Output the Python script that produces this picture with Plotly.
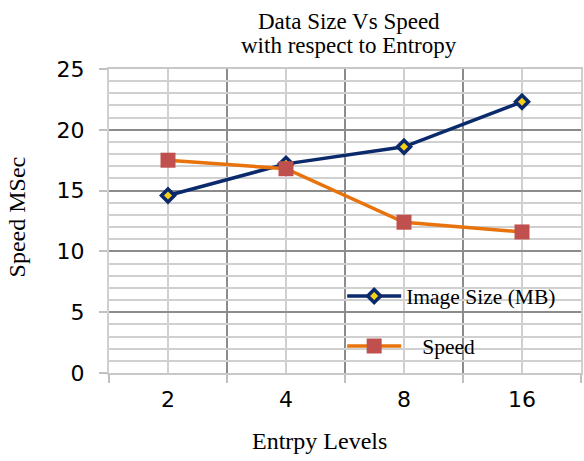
import plotly.graph_objects as go

categories = ["2", "4", "8", "16"]
image_size = [14.6, 17.2, 18.6, 22.3]
speed = [17.5, 16.8, 12.4, 11.6]

x_idx = list(range(len(categories)))
boundaries = [i - 0.5 for i in range(len(categories) + 1)]

NAVY = "#0B2A6B"
ORANGE = "#E8730C"
SQUARE = "#C0504D"
YELLOW = "#F7D117"
SERIF = "Liberation Serif"
SANS = "DejaVu Sans"

PLOT_T, PLOT_H, PLOT_L, PLOT_W = 69, 304, 109, 474

fig = go.Figure()
fig.add_trace(go.Scatter(
    x=x_idx, y=image_size, name="Image Size (MB)", mode="lines+markers",
    line=dict(color=NAVY, width=3.5),
    marker=dict(symbol="diamond", size=10, color=YELLOW, line=dict(color=NAVY, width=3.5)),
    legendgroup="a",
))
fig.add_trace(go.Scatter(
    x=x_idx, y=speed, name="\u00a0\u00a0\u00a0Speed", mode="lines+markers",
    line=dict(color=ORANGE, width=3.5),
    marker=dict(symbol="square", size=15, color=SQUARE, line=dict(width=0)),
    legendgroup="b",
))

fig.add_shape(type="rect", xref="paper", yref="y", x0=0.445, x1=1.0, y0=0.12, y1=8.3,
              fillcolor="white", line=dict(width=0), layer="between")

fig.update_layout(
    width=584, height=461,
    margin=dict(l=PLOT_L, r=1, t=PLOT_T, b=88),
    paper_bgcolor="white", plot_bgcolor="white",
    showlegend=True,
    legend=dict(x=0.494, xanchor="left", y=0.3205, yanchor="top", bgcolor="rgba(0,0,0,0)",
                font=dict(family=SERIF, size=21.5, color="black"),
                tracegroupgap=19, itemwidth=54),
    xaxis=dict(
        range=[-0.5, len(categories) - 0.5],
        tickmode="array", tickvals=x_idx, ticktext=categories,
        ticks="", showgrid=True, gridcolor="#D0D0D0", gridwidth=2,
        tickfont=dict(family=SANS, size=22, color="black"),
        ticklabelstandoff=6,
        showline=True, linecolor="#C8C8C8", linewidth=2, mirror=True,
        zeroline=False,
        minor=dict(tickmode="array", tickvals=boundaries, ticks="outside", ticklen=8,
                   tickcolor="#C0C0C0", tickwidth=2, showgrid=True, gridcolor="#8C8C8C", gridwidth=1.5),
    ),
    yaxis=dict(
        range=[0, 25], dtick=5, tick0=0,
        ticks="outside", ticklen=8, tickcolor="#C0C0C0", tickwidth=2,
        showgrid=True, gridcolor="#8C8C8C", gridwidth=1.5,
        tickfont=dict(family=SANS, size=22, color="black"),
        ticklabelstandoff=10,
        showline=True, linecolor="#D0D0D0", linewidth=2, mirror=True,
        zeroline=False,
        minor=dict(dtick=1, tick0=0, showgrid=True, gridcolor="#D0D0D0", gridwidth=2, ticks=""),
    ),
    annotations=[
        dict(text="Data Size Vs Speed", xref="paper", yref="paper",
             x=(350 - PLOT_L) / PLOT_W, y=1 + (PLOT_T - 7) / PLOT_H,
             xanchor="center", yanchor="top", showarrow=False,
             font=dict(family=SERIF, size=23, color="black")),
        dict(text="with respect to Entropy", xref="paper", yref="paper",
             x=(350 - PLOT_L) / PLOT_W, y=1 + (PLOT_T - 31) / PLOT_H,
             xanchor="center", yanchor="top", showarrow=False,
             font=dict(family=SERIF, size=23, color="black")),
        dict(text="Entrpy Levels", xref="paper", yref="paper", x=(320 - PLOT_L) / PLOT_W,
             y=-(441 - 373) / PLOT_H,
             xanchor="center", yanchor="middle", showarrow=False,
             font=dict(family=SERIF, size=24, color="black")),
        dict(text="Speed MSec", xref="paper", yref="paper", x=-(PLOT_L - 17) / PLOT_W,
             y=(373 - 217) / PLOT_H,
             xanchor="center", yanchor="middle", showarrow=False, textangle=-90,
             font=dict(family=SERIF, size=24, color="black")),
    ],
)

fig.write_html("out.html", config={"displayModeBar": False},
               post_script="document.body.style.margin='0';")
